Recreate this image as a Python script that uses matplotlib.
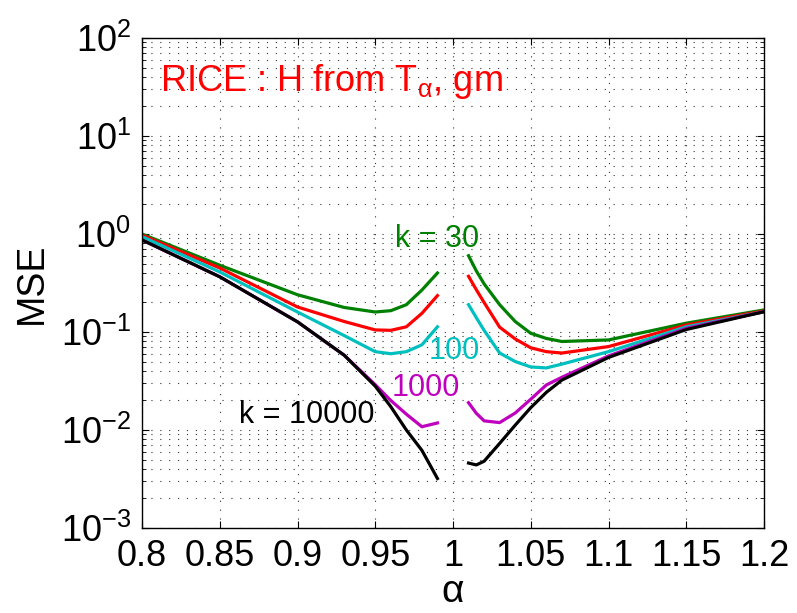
import numpy as np
import matplotlib
matplotlib.use("Agg")
import matplotlib.pyplot as plt
from matplotlib.ticker import LogLocator, FixedLocator, NullFormatter

plt.rcParams['font.family'] = ['Liberation Sans', 'DejaVu Sans']
plt.rcParams['mathtext.fontset'] = 'custom'
plt.rcParams['mathtext.rm'] = 'Liberation Sans'
plt.rcParams['mathtext.it'] = 'Liberation Sans:italic'
plt.rcParams['mathtext.sf'] = 'Liberation Sans'

# alpha grid, left and right of 1
alpha_left = [0.80, 0.85, 0.90, 0.93, 0.95, 0.96, 0.97, 0.98, 0.99]
alpha_right = [1.01, 1.015, 1.02, 1.03, 1.04, 1.05, 1.06, 1.07, 1.10, 1.15, 1.20]

# MSE per k (left branch)
mse_k30_left = [1.0, 0.48, 0.24, 0.178, 0.160, 0.165, 0.19, 0.268, 0.40]
mse_k100_left = [0.975, 0.45, 0.18, 0.128, 0.105, 0.104, 0.113, 0.155, 0.235]
mse_k1000_left = [0.94, 0.41, 0.16, 0.092, 0.063, 0.060, 0.063, 0.074, 0.113]
mse_k10000_left = [0.87, 0.366, 0.127, 0.058, 0.029, 0.020, 0.0145, 0.0108, 0.0118]
mse_kinf_left = [0.87, 0.366, 0.127, 0.058, 0.028, 0.0173, 0.0100, 0.0062, 0.0032]

# MSE per k (right branch)
mse_k30_right = [0.60, 0.42, 0.31, 0.19, 0.128, 0.097, 0.086, 0.080, 0.083, 0.123, 0.168]
mse_k100_right = [0.37, 0.27, 0.20, 0.112, 0.085, 0.069, 0.063, 0.061, 0.071, 0.118, 0.164]
mse_k1000_right = [0.19, 0.14, 0.104, 0.061, 0.050, 0.044, 0.043, 0.047, 0.063, 0.113, 0.161]
mse_k10000_right = [0.019, 0.0148, 0.0124, 0.0119, 0.0149, 0.0206, 0.0288, 0.0345, 0.057, 0.109, 0.161]
mse_kinf_right = [0.0046, 0.0044, 0.0048, 0.0073, 0.0112, 0.0169, 0.0242, 0.0323, 0.055, 0.106, 0.161]

series = [
    (mse_k30_left, mse_k30_right, '#008000'),
    (mse_k100_left, mse_k100_right, '#ff0000'),
    (mse_k1000_left, mse_k1000_right, '#00bfbf'),
    (mse_k10000_left, mse_k10000_right, '#bf00bf'),
    (mse_kinf_left, mse_kinf_right, '#000000'),
]

x_ticks = [0.8, 0.85, 0.9, 0.95, 1.0, 1.05, 1.1, 1.15, 1.2]
x_ticklabels = ['0.8', '0.85', '0.9', '0.95', '1', '1.05', '1.1', '1.15', '1.2']

fig = plt.figure(figsize=(7.97, 6.13), dpi=100)
ax = fig.add_axes([142/797, 85/613, 622/797, 490/613])

for left, right, c in series:
    ax.plot(alpha_left, left, color=c, lw=2.3)
    ax.plot(alpha_right, right, color=c, lw=2.3)

ax.set_yscale('log')
ax.set_xlim(0.8, 1.2)
ax.set_ylim(1e-3, 1e2)
ax.xaxis.set_major_locator(FixedLocator(x_ticks))
ax.set_xticklabels(x_ticklabels)
ax.yaxis.set_major_locator(LogLocator(base=10, numticks=10))
ax.yaxis.set_minor_locator(LogLocator(base=10, subs=np.arange(2, 10), numticks=20))
ax.yaxis.set_minor_formatter(NullFormatter())

# matlab-like sparse dotted grid
ax.grid(True, which='major', linestyle=(0, (1, 7)), color='#333333', lw=0.8)
ax.grid(True, which='minor', axis='y', linestyle=(0, (1, 7)), color='#333333', lw=0.8)
ax.tick_params(which='both', direction='in', top=True, right=True, labelsize=26, pad=8)
ax.tick_params(which='major', length=5)
ax.tick_params(which='minor', length=3)
for s in ax.spines.values():
    s.set_linewidth(1.0)

ax.set_xlabel('α', fontsize=28, labelpad=0)
ax.set_ylabel('MSE', fontsize=27, labelpad=8)

ax.text(0.8116, 10**1.462, r'RICE : H from T$_{\mathrm{α}}$, gm', color='#ff0000',
        fontsize=26, ha='left', va='baseline')
ax.text(0.9897, 0.889, 'k = 30', color='#008000', fontsize=22, ha='center', va='center')
ax.text(1.0006, 0.064, '100', color='#00bfbf', fontsize=22, ha='center', va='center')
ax.text(0.9826, 0.0268, '1000', color='#bf00bf', fontsize=22, ha='center', va='center')
ax.text(0.9061, 0.0142, 'k = 10000', color='#000000', fontsize=22, ha='center', va='center')

fig.savefig('out.png', dpi=100)
